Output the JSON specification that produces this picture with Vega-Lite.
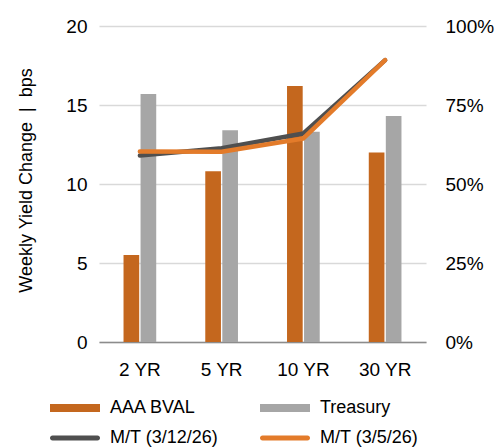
{
  "$schema": "https://vega.github.io/schema/vega-lite/v6.json",
  "width": 327,
  "height": 316,
  "autosize": {"type": "none"},
  "padding": {"left": 99, "top": 26, "right": 73, "bottom": 106},
  "background": "white",
  "config": {
    "font": "Liberation Sans",
    "view": {"stroke": null},
    "axis": {"labelFont": "Liberation Sans", "titleFont": "Liberation Sans", "labelColor": "#000000", "titleColor": "#000000"}
  },
  "datasets": {
    "bars": [
      {"tenor": "2 YR", "series": "AAA BVAL", "value": 5.5},
      {"tenor": "2 YR", "series": "Treasury", "value": 15.7},
      {"tenor": "5 YR", "series": "AAA BVAL", "value": 10.8},
      {"tenor": "5 YR", "series": "Treasury", "value": 13.4},
      {"tenor": "10 YR", "series": "AAA BVAL", "value": 16.2},
      {"tenor": "10 YR", "series": "Treasury", "value": 13.3},
      {"tenor": "30 YR", "series": "AAA BVAL", "value": 12.0},
      {"tenor": "30 YR", "series": "Treasury", "value": 14.3}
    ],
    "lines": [
      {"tenor": "2 YR", "series": "M/T (3/12/26)", "value": 0.59},
      {"tenor": "5 YR", "series": "M/T (3/12/26)", "value": 0.613},
      {"tenor": "10 YR", "series": "M/T (3/12/26)", "value": 0.66},
      {"tenor": "30 YR", "series": "M/T (3/12/26)", "value": 0.892},
      {"tenor": "2 YR", "series": "M/T (3/5/26)", "value": 0.603},
      {"tenor": "5 YR", "series": "M/T (3/5/26)", "value": 0.602},
      {"tenor": "10 YR", "series": "M/T (3/5/26)", "value": 0.644},
      {"tenor": "30 YR", "series": "M/T (3/5/26)", "value": 0.892}
    ]
  },
  "layer": [
    {
      "data": {"name": "bars"},
      "mark": {"type": "bar"},
      "encoding": {
        "x": {
          "field": "tenor", "type": "nominal",
          "sort": ["2 YR", "5 YR", "10 YR", "30 YR"],
          "scale": {"paddingInner": 0.6, "paddingOuter": 0.3},
          "axis": {"title": null, "labelAngle": 0, "labelFontSize": 19, "ticks": false, "domainColor": "#8c8c8c", "domainWidth": 1.5, "labelPadding": 18}
        },
        "xOffset": {"field": "series", "type": "nominal", "sort": ["AAA BVAL", "Treasury"], "scale": {"paddingInner": 0.08}},
        "y": {
          "field": "value", "type": "quantitative",
          "scale": {"domain": [0, 20]},
          "axis": {
            "values": [0, 5, 10, 15, 20],
            "title": "Weekly Yield Change \u00a0|\u00a0 bps",
            "titleFontSize": 18, "titleFontWeight": "normal",
            "titleX": -73, "titleY": 154, "titleAngle": -90, "titleAlign": "center", "titleBaseline": "middle",
            "labelFontSize": 19, "labelPadding": 12,
            "ticks": false, "domain": false,
            "grid": true, "gridColor": "#d9d9d9", "gridWidth": 1.5
          }
        },
        "color": {
          "field": "series", "type": "nominal",
          "scale": {
            "domain": ["AAA BVAL", "Treasury", "M/T (3/12/26)", "M/T (3/5/26)"],
            "range": ["#c4671e", "#a6a6a6", "#4f4f4f", "#e37b2a"]
          },
          "legend": {
            "orient": "none", "legendX": -33, "legendY": 373,
            "columns": 2, "direction": "horizontal",
            "title": null,
            "symbolType": "M-5,-0.8L5,-0.8L5,0.8L-5,0.8Z",
            "symbolSize": 100, "symbolStrokeWidth": 0, "symbolOpacity": 1,
            "labelFontSize": 18, "labelColor": "#000000", "labelOffset": 26, "labelLimit": 300,
            "columnPadding": 41, "rowPadding": 12,
            "encode": {
              "symbols": {
                "update": {
                  "shape": [
                    {"test": "datum.value === 'AAA BVAL' || datum.value === 'Treasury'", "value": "M-5,-0.8L5,-0.8L5,0.8L-5,0.8Z"},
                    {"value": "M-4.5,-0.5L4.5,-0.5A0.5,0.5 0 0 1 4.5,0.5L-4.5,0.5A0.5,0.5 0 0 1 -4.5,-0.5Z"}
                  ]
                }
              }
            }
          }
        }
      }
    },
    {
      "data": {"name": "lines"},
      "mark": {"type": "line", "strokeWidth": 4.5, "strokeCap": "round", "strokeJoin": "round"},
      "encoding": {
        "x": {"field": "tenor", "type": "nominal", "sort": ["2 YR", "5 YR", "10 YR", "30 YR"]},
        "y": {
          "field": "value", "type": "quantitative",
          "scale": {"domain": [0, 1]},
          "axis": {
            "orient": "right", "format": ".0%", "values": [0, 0.25, 0.5, 0.75, 1],
            "title": null, "labelFontSize": 19, "labelPadding": 19,
            "ticks": false, "domain": false, "grid": false
          }
        },
        "color": {"field": "series", "type": "nominal"}
      }
    }
  ],
  "resolve": {"scale": {"y": "independent"}}
}
